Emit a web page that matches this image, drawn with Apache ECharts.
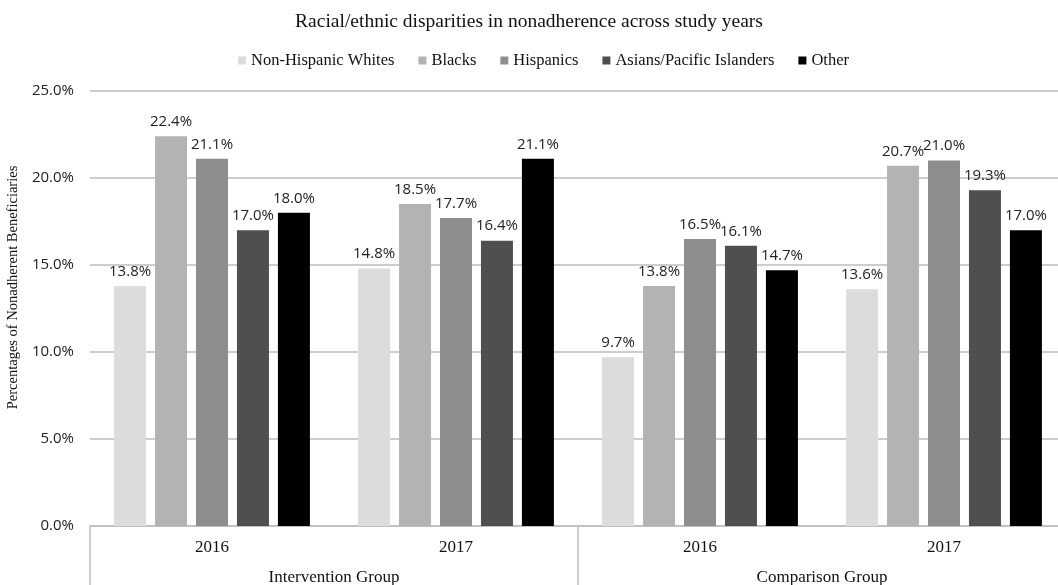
<!DOCTYPE html>
<html><head><meta charset="utf-8">
<script src="https://cdn.jsdelivr.net/npm/echarts@6/dist/echarts.min.js"></script>
<style>html,body{margin:0;padding:0;background:#fff}#c{width:1058px;height:585px}</style>
</head><body><div id="c"></div>
<script>
var years = ['2016', '2017', '2016', '2017'];
var groups = ['Intervention Group', 'Comparison Group'];
var seriesNames = ['Non-Hispanic Whites', 'Blacks', 'Hispanics', 'Asians/Pacific Islanders', 'Other'];
var whites = [13.8, 14.8, 9.7, 13.6];
var blacks = [22.4, 18.5, 13.8, 20.7];
var hispanics = [21.1, 17.7, 16.5, 21.0];
var asians = [17.0, 16.4, 16.1, 19.3];
var other = [18.0, 21.1, 14.7, 17.0];
var yTicks = [0, 5, 10, 15, 20, 25];
var colors = ['#dcdcdc', '#b3b3b3', '#8e8e8e', '#4f4f4f', '#000000'];
var values = [whites, blacks, hispanics, asians, other];

var serif = '"Liberation Serif", "DejaVu Serif", serif';
var sans = '"Open Sans", "Liberation Sans", sans-serif';

var chart = echarts.init(document.getElementById('c'));
chart.setOption({
  animation: false,
  color: colors,
  title: {
    text: 'Racial/ethnic disparities in nonadherence across study years',
    left: 'center', top: 7,
    textStyle: { fontFamily: serif, fontSize: 19.5, fontWeight: 'normal', color: '#111' }
  },
  legend: {
    data: seriesNames, top: 47, left: 233,
    icon: 'rect', itemWidth: 8, itemHeight: 8, itemGap: 24,
    textStyle: { fontFamily: serif, fontSize: 16.5, color: '#111' }
  },
  grid: { left: 90, width: 976, top: 91, bottom: 59, containLabel: false, outerBoundsMode: 'none' },
  xAxis: [{
    type: 'category', data: years, position: 'bottom', offset: 0,
    axisLine: { show: true, lineStyle: { color: '#bdbdbd', width: 1.5 } },
    axisTick: { show: false },
    axisLabel: { margin: 13, fontFamily: serif, fontSize: 17, color: '#111' }
  }, {
    type: 'category', data: groups, position: 'bottom', offset: 0,
    axisLine: { show: false },
    axisTick: { show: true, alignWithLabel: false, length: 60, lineStyle: { color: '#bdbdbd', width: 1.5 } },
    axisLabel: { margin: 43, fontFamily: serif, fontSize: 17, color: '#111' }
  }],
  yAxis: {
    type: 'value', min: yTicks[0], max: yTicks[yTicks.length - 1], interval: 5,
    name: 'Percentages of Nonadherent Beneficiaries', nameLocation: 'middle', nameGap: 69,
    nameTextStyle: { fontFamily: serif, fontSize: 14.5, color: '#111', padding: [0, 0, 0, 42] },
    axisLine: { show: false }, axisTick: { show: false },
    axisLabel: { margin: 16, fontFamily: sans, fontSize: 15, color: '#222',
      formatter: function (v) { return v.toFixed(1) + '%'; } },
    splitLine: { lineStyle: { color: '#bdbdbd', width: 1.5 } }
  },
  series: seriesNames.map(function (n, i) {
    return {
      name: n, type: 'bar', xAxisIndex: 0, data: values[i],
      barWidth: 32, barGap: '28%',
      itemStyle: { color: colors[i] },
      label: { show: true, position: 'top', distance: 7, fontFamily: sans, fontSize: 15, color: '#222',
        formatter: function (p) { return p.value.toFixed(1) + '%'; } }
    };
  })
});
</script></body></html>
